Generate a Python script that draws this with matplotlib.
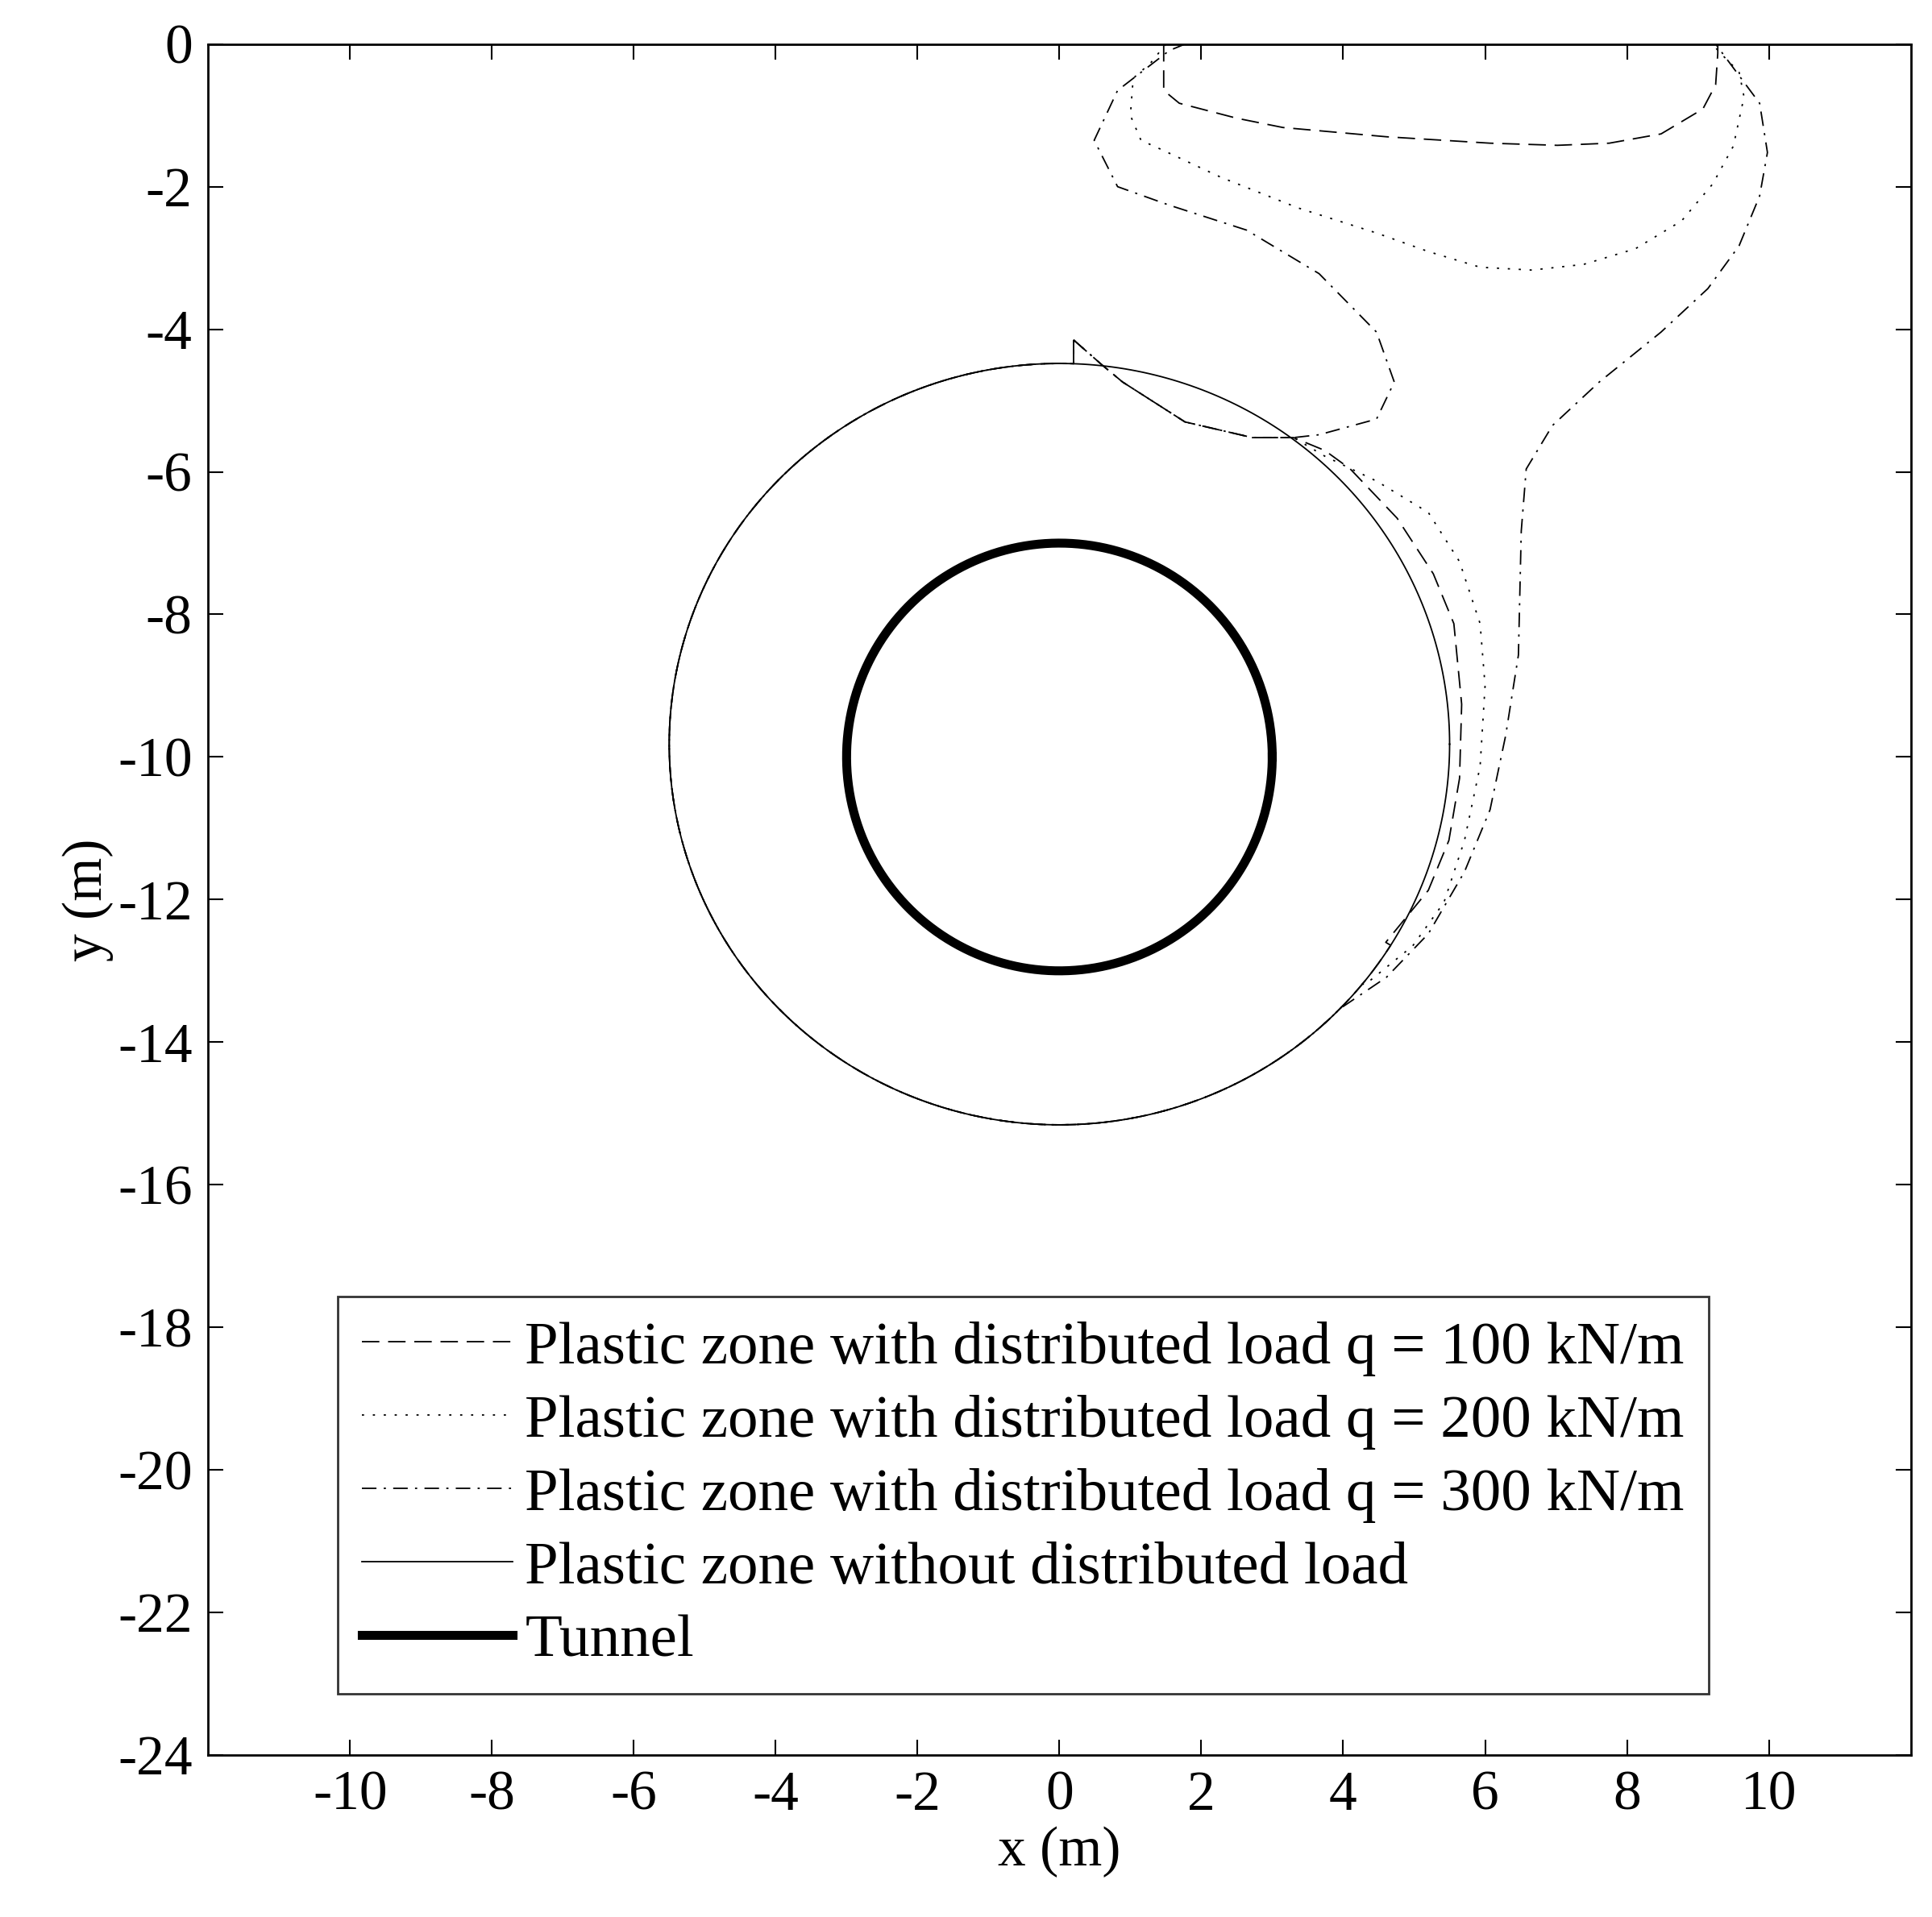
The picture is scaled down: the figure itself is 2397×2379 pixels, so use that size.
import numpy as np
import matplotlib.pyplot as plt

plt.rcParams['font.family'] = ['Liberation Serif', 'DejaVu Serif']
plt.rcParams['axes.unicode_minus'] = False

# tunnel and plastic zone without load (centre, radii)
tunnel_c = (0.0, -10.0)
tunnel_r = 3.0
zone_c = (0.0, -9.82)
zone_rx, zone_ry = 5.5, 5.34

# q = 100 kN/m : bulge on right side and separate loop near surface
q100_bulge_x = [3.3, 3.74, 4.1, 4.76, 5.27, 5.56, 5.67, 5.64, 5.49, 5.2, 4.6]
q100_bulge_y = [-5.52, -5.7, -5.96, -6.65, -7.43, -8.13, -9.26, -10.3, -11.17, -11.87, -12.6]
q100_top_x = [1.47, 1.47, 1.69, 2.5, 3.15, 4.61, 6.07, 7.02, 7.75, 8.48, 9.07, 9.25, 9.28, 9.28]
q100_top_y = [0.0, -0.65, -0.83, -1.04, -1.17, -1.3, -1.39, -1.42, -1.39, -1.26, -0.91, -0.57, -0.13, 0.0]

# q = 200 kN/m
q200_bulge_x = [3.3, 3.74, 4.47, 5.2, 5.64, 5.93, 6.0, 5.93, 5.71, 5.42, 4.98, 4.3]
q200_bulge_y = [-5.52, -5.78, -6.13, -6.57, -7.26, -8.13, -9.0, -10.13, -11.17, -12.04, -12.65, -13.2]
q200_top_x = [1.5, 1.29, 1.04, 1.0, 1.15, 1.44, 2.28, 3.37, 4.47, 5.2, 5.93, 6.66, 7.39, 8.12,
              8.77, 9.21, 9.5, 9.65, 9.58, 9.36, 9.2]
q200_top_y = [0.0, -0.26, -0.48, -1.0, -1.35, -1.48, -1.87, -2.30, -2.65, -2.91, -3.13, -3.17,
              -3.09, -2.87, -2.48, -1.96, -1.43, -0.74, -0.39, -0.17, 0.0]

# q = 300 kN/m : one connected zone
q300_x = [3.3, 3.66, 4.47, 4.72, 4.47, 3.66, 2.64, 1.55, 0.82, 0.49, 0.82, 1.55, 1.77,
          9.25, 9.87, 9.98, 9.87, 9.58, 9.14, 8.48, 7.61, 6.95, 6.58, 6.51, 6.47, 6.29,
          6.07, 5.71, 5.2, 4.61, 4.0]
q300_y = [-5.52, -5.48, -5.26, -4.74, -4.04, -3.22, -2.61, -2.26, -2.0, -1.35, -0.65, -0.09, 0.0,
          0.0, -0.83, -1.52, -2.13, -2.83, -3.43, -4.04, -4.74, -5.35, -5.96, -6.83, -8.57, -9.70,
          -10.74, -11.61, -12.48, -13.09, -13.5]

# dip inside the circle near its top (shared by loaded zones)
dip_x = [0.2, 0.6, 0.89, 1.77, 2.72, 3.3]
dip_y = [-4.15, -4.5, -4.74, -5.3, -5.52, -5.52]

labels = ['Plastic zone with distributed load q = 100 kN/m',
          'Plastic zone with distributed load q = 200 kN/m',
          'Plastic zone with distributed load q = 300 kN/m',
          'Plastic zone without distributed load',
          'Tunnel']


def ring_arc(x0, y0, x1, y1):
    # clockwise arc of the unloaded ring (through bottom and left) from point 0 to point 1
    a0 = np.arctan2((y0 - zone_c[1]) / zone_ry, x0 / zone_rx)
    a1 = np.arctan2((y1 - zone_c[1]) / zone_ry, x1 / zone_rx)
    while a1 > a0:
        a1 -= 2 * np.pi
    t = np.linspace(a0, a1, 300)
    return zone_c[0] + zone_rx * np.cos(t), zone_c[1] + zone_ry * np.sin(t)


def loaded_zone(bx, by):
    ax_, ay_ = ring_arc(bx[-1], by[-1], dip_x[0], -4.48)
    xs = dip_x + list(bx) + list(ax_) + [dip_x[0]]
    ys = dip_y + list(by) + list(ay_) + [dip_y[0]]
    return xs, ys


fig = plt.figure(figsize=(23.97, 23.79), dpi=100)
ax = fig.add_axes([0.1077, 0.0845, 0.8813, 0.8925])
lw = 1.3

x1, y1 = loaded_zone(q100_bulge_x, q100_bulge_y)
ax.plot(x1, y1, color='k', lw=lw, dashes=(12, 6), label=labels[0])
ax.plot(q100_top_x, q100_top_y, color='k', lw=lw, dashes=(12, 6))

x2, y2 = loaded_zone(q200_bulge_x, q200_bulge_y)
ax.plot(x2, y2, color='k', lw=lw, dashes=(1.5, 6), label=labels[1])
ax.plot(q200_top_x, q200_top_y, color='k', lw=lw, dashes=(1.5, 6))

x3, y3 = loaded_zone(q300_x, q300_y)
ax.plot(x3, y3, color='k', lw=lw, dashes=(10, 5, 1.5, 5), label=labels[2])

t = np.linspace(0, 2 * np.pi, 400)
ax.plot(zone_c[0] + zone_rx * np.cos(t), zone_c[1] + zone_ry * np.sin(t), color='k', lw=lw, label=labels[3])
ax.plot(tunnel_c[0] + tunnel_r * np.cos(t), tunnel_c[1] + tunnel_r * np.sin(t), color='k', lw=8, label=labels[4])

ax.set_xlim(-12, 12)
ax.set_ylim(-24, 0)
ax.set_xticks(range(-10, 11, 2))
ax.set_yticks(range(-24, 1, 2))
ax.tick_params(labelsize=50, direction='in', length=14, width=1.5, top=True, right=True, pad=14)
for s in ax.spines.values():
    s.set_linewidth(2)
ax.set_xlabel('x (m)', fontsize=50, labelpad=4)
ax.set_ylabel('y (m)', fontsize=50, labelpad=4)

leg = ax.legend(loc='lower left', bbox_to_anchor=(0.076, 0.036), fontsize=54, handlelength=2.5,
                frameon=True, fancybox=False, edgecolor='k', borderpad=0.4, labelspacing=0.3,
                handletextpad=0.2, borderaxespad=0)
leg.get_frame().set_linewidth(2)

fig.savefig('out.png', dpi=100)
